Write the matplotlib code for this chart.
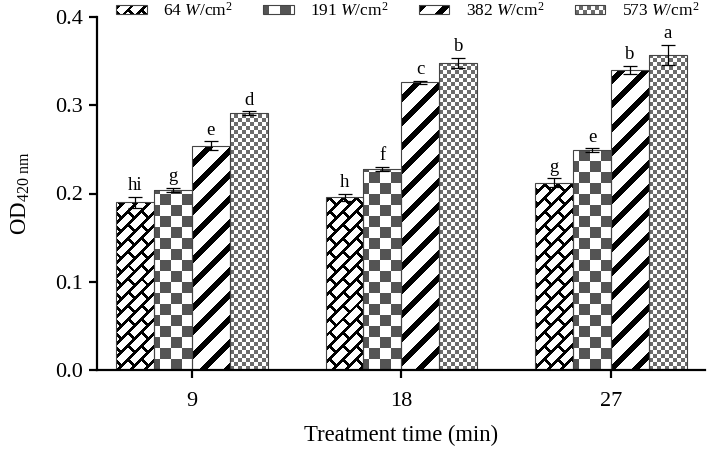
import numpy as np
import matplotlib
matplotlib.use('Agg')
import matplotlib.pyplot as plt
from matplotlib.patches import Rectangle

# データ
times = ['9', '18', '27']
power_labels = ['64 $W$/cm$^2$', '191 $W$/cm$^2$', '382 $W$/cm$^2$', '573 $W$/cm$^2$']
od_64 = [0.190, 0.196, 0.212]
od_191 = [0.204, 0.228, 0.249]
od_382 = [0.254, 0.326, 0.340]
od_573 = [0.291, 0.348, 0.357]
err_64 = [0.006, 0.004, 0.005]
err_191 = [0.002, 0.002, 0.002]
err_382 = [0.005, 0.002, 0.005]
err_573 = [0.002, 0.006, 0.011]
let_64 = ['hi', 'h', 'g']
let_191 = ['g', 'f', 'e']
let_382 = ['e', 'c', 'b']
let_573 = ['d', 'b', 'a']

plt.rcParams['font.family'] = ['Liberation Serif', 'DejaVu Serif']
plt.rcParams['mathtext.fontset'] = 'custom'
plt.rcParams['mathtext.rm'] = 'Liberation Serif'
plt.rcParams['mathtext.it'] = 'Liberation Serif:italic'


# 塗りつぶし模様（ピクセル単位）
def tex_brick(X, Y, x0, y0):
    u = (X + Y) / np.sqrt(2)
    v = (Y - X) / np.sqrt(2)
    P, L, w = 9.5, 19.0, 2.8
    row = np.floor(v / P)
    line = (v % P) < w
    joint = ((u + (row % 2) * L / 2) % L) < w
    return np.where(line | joint, 0.0, 1.0)


def tex_checker_big(X, Y, x0, y0):
    s = 11
    c = (np.floor((X - x0 + 5) / s) + np.floor((Y - y0) / s)) % 2
    return np.where(c == 0, 0.33, 1.0)


def tex_stripe(X, Y, x0, y0):
    return np.where(((X - Y) % 24) < 8, 0.0, 1.0)


def tex_checker_small(X, Y, x0, y0):
    s = 4
    c = (np.floor((X - x0) / s) + np.floor((Y - y0) / s)) % 2
    return np.where(c == 0, 0.42, 1.0)


textures = [tex_brick, tex_checker_big, tex_stripe, tex_checker_small]


def fill_patch(fig, patch, tex, zorder):
    bb = patch.get_window_extent()
    x0, x1 = int(round(bb.x0)), int(round(bb.x1))
    y0, y1 = int(round(bb.y0)), int(round(bb.y1))
    if x1 <= x0 or y1 <= y0:
        return
    X, Y = np.meshgrid(np.arange(x0, x1), np.arange(y0, y1))
    g = tex(X, Y, x0, y0)
    arr = np.dstack([g, g, g])
    fig.figimage(arr, xo=x0, yo=y0, origin='lower', zorder=zorder)


fig = plt.figure(figsize=(7.08, 4.49), dpi=100)
ax = fig.add_axes([97 / 708, 1 - 370 / 449, 608 / 708, 353 / 449])
ax.set_facecolor('none')

series = [od_64, od_191, od_382, od_573]
errs = [err_64, err_191, err_382, err_573]
letters = [let_64, let_191, let_382, let_573]

x = np.arange(len(times))
w = 0.181
all_bars = []
for i in range(4):
    pos = x + (i - 1.5) * w
    bars = ax.bar(pos, series[i], w, facecolor='none', edgecolor='#444444', linewidth=0.8)
    all_bars.append(bars)
    ax.errorbar(pos, series[i], yerr=errs[i], fmt='none', ecolor='black',
                elinewidth=0.9, capsize=5, capthick=0.9)
    for px, v, e, t in zip(pos, series[i], errs[i], letters[i]):
        ax.annotate(t, (px, v + e), xytext=(0, 2), textcoords='offset points',
                    ha='center', va='bottom', fontsize=13.5)

ax.set_xlim(-0.453, 2.449)
ax.set_ylim(0, 0.4)
ax.set_xticks(x)
ax.set_xticklabels(times)
ax.set_yticks([0.0, 0.1, 0.2, 0.3, 0.4])
ax.set_yticklabels(['0.0', '0.1', '0.2', '0.3', '0.4'])
ax.spines['top'].set_visible(False)
ax.spines['right'].set_visible(False)
ax.spines['left'].set_linewidth(1.6)
ax.spines['bottom'].set_linewidth(1.6)
ax.tick_params(axis='both', direction='out', length=6, width=1.6, labelsize=16)
ax.tick_params(axis='x', pad=9.5)
ax.tick_params(axis='y', pad=4)
ax.set_xlabel('Treatment time (min)', fontsize=16.3, labelpad=10)
ax.set_ylabel('OD$_{\\mathrm{420\\ nm}}$', fontsize=16.5, labelpad=17)

handles = [Rectangle((0, 0), 1, 1, facecolor='none', edgecolor='#444444', linewidth=0.8)
           for _ in range(4)]
leg = ax.legend(handles, power_labels, loc='center', bbox_to_anchor=(0.511, 1.017),
                ncol=4, frameon=False, fontsize=12.5, handlelength=1.75, handleheight=0.45,
                handletextpad=0.95, columnspacing=1.75, borderpad=0, borderaxespad=0)

fig.canvas.draw()
for i in range(4):
    for b in all_bars[i]:
        fill_patch(fig, b, textures[i], -1)
    fill_patch(fig, leg.legend_handles[i], textures[i], -1)

fig.savefig('out.png', dpi=100)
